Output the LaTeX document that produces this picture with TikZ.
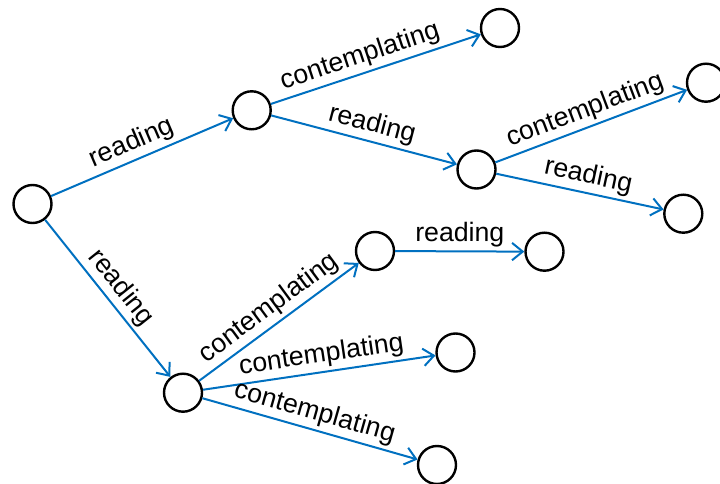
\documentclass[tikz,border=0pt]{standalone}
\usepackage{fontspec}
\setmainfont{Liberation Sans}
\usetikzlibrary{arrows.meta}
\definecolor{edgeblue}{RGB}{0,112,192}
\begin{document}
\begin{tikzpicture}[x=0.75pt,y=-0.75pt,
  state/.style={circle,draw=black,line width=1.8pt,minimum size=28.5pt,inner sep=0pt,fill=white},
  edge/.style={draw=edgeblue,line width=1.5pt,-{Straight Barb[length=8pt,width=13pt,line width=1.5pt]}},
  lbl/.style={font=\fontsize{20}{24}\selectfont,sloped,above,inner sep=2.5pt}]
\useasboundingbox (0,0) rectangle (720,484);
\node[state] (A) at (32.5,204) {};
\node[state] (B) at (251.7,110.3) {};
\node[state] (C) at (500,28) {};
\node[state] (D) at (476.5,169.5) {};
\node[state] (E) at (706,82.7) {};
\node[state] (F) at (683.3,213.7) {};
\node[state] (G) at (183,392.7) {};
\node[state] (H) at (375,251) {};
\node[state] (I) at (544.5,251.7) {};
\node[state] (J) at (455.5,352.5) {};
\node[state] (K) at (437,465) {};
\draw[edge] (A) -- node[lbl,pos=0.48] {reading} (B);
\draw[edge] (A) -- node[lbl] {reading} (G);
\draw[edge] (B) -- node[lbl,pos=0.45] {contemplating} (C);
\draw[edge] (B) -- node[lbl,pos=0.52] {reading} (D);
\draw[edge] (D) -- node[lbl,pos=0.5] {contemplating} (E);
\draw[edge] (D) -- node[lbl,pos=0.53] {reading} (F);
\draw[edge] (G) -- node[lbl] {contemplating} (H);
\draw[edge] (H) -- node[lbl] {reading} (I);
\draw[edge] (G) -- node[lbl,pos=0.52] {contemplating} (J);
\draw[edge] (G) -- node[lbl] {contemplating} (K);
\end{tikzpicture}
\end{document}
